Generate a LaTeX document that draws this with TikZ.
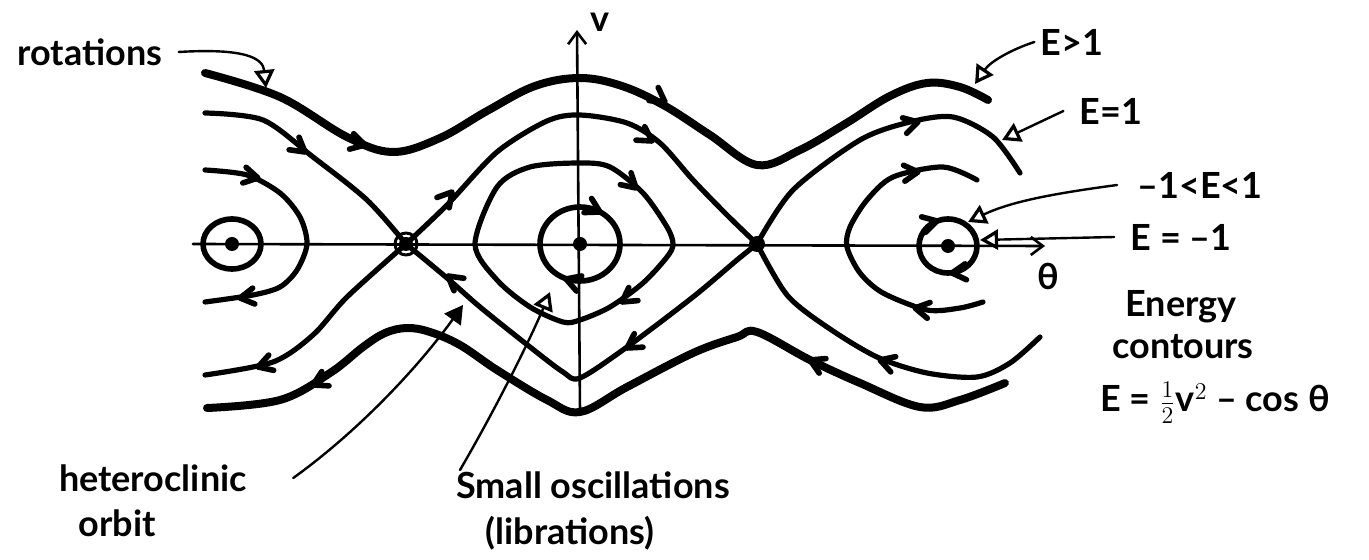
\documentclass[tikz,border=0pt]{standalone}
\usepackage{fontspec}
\setmainfont{Lato}
\usetikzlibrary{arrows.meta}
\newcommand\flowtip[3]{\draw[barbline] (#1,#2) ++(#3+150:16) -- (#1,#2) -- ++(#3-150:16);}
\begin{document}
\begin{tikzpicture}[x=0.5pt,y=-0.5pt,line cap=round,line join=round,
  rot/.style={line width=4pt},
  orbline/.style={line width=2.6pt},
  ring/.style={line width=2.8pt},
  axisline/.style={line width=1.3pt},
  barbline/.style={line width=2.8pt},
  pointer/.style={line width=1.2pt},
  lbl/.style={font=\fontsize{18}{21}\selectfont\bfseries,inner sep=0pt},
  opentri/.style={-{Triangle[open,length=9pt,width=10pt,line width=1.6pt]}},
  filltri/.style={-{Triangle[length=9pt,width=10pt]}}]
\fill[white] (0,0) rectangle (1369,560);
\useasboundingbox (0,0) rectangle (1369,560);

% axes
\draw[axisline,-{Straight Barb[length=6pt,width=9pt]}] (193,244) -- (1045,246);
\draw[axisline,-{Straight Barb[length=6pt,width=9pt]}] (580,413) -- (577,30);

% rotations
\draw[rot] plot[smooth,tension=0.6] coordinates {(205,73) (280,97) (347,137) (393,152) (440,138) (487,111) (535,86) (580,78) (622,86) (665,106) (710,135) (757,165) (800,150) (845,124) (890,96) (927,83) (960,87) (988,100)};
\draw[rot] plot[smooth,tension=0.6] coordinates {(207,408) (280,400) (330,373) (363,347) (385,333) (407,328) (430,332) (460,345) (497,370) (547,400) (580,412) (627,387) (693,353) (737,337) (757,332) (810,360) (860,383) (920,407) (960,400) (1005,383)};

% separatrices (E=1)
\draw[orbline] plot[smooth] coordinates {(205,113) (263,120) (313,157) (367,200) (406,244)};
\draw[orbline] plot[smooth] coordinates {(406,244) (447,205) (497,152) (547,121) (580,115) (627,123) (660,143) (693,180) (727,215) (757,244)};
\draw[orbline] plot[smooth] coordinates {(757,244) (793,190) (860,140) (910,122) (953,117) (993,137) (1020,173)};
\draw[orbline] plot[smooth] coordinates {(406,244) (347,297) (313,335) (273,362) (205,375)};
\draw[orbline] plot[smooth] coordinates {(406,244) (447,278) (480,307) (530,347) (563,372) (580,378) (627,347) (693,297) (737,260) (757,244)};
\draw[orbline] plot[smooth] coordinates {(757,244) (787,295) (827,327) (877,357) (927,373) (977,377) (1010,363) (1040,337)};

% librations (-1<E<1)
\draw[orbline] plot[smooth cycle] coordinates {(475,244) (497,187) (530,167) (580,163) (610,167) (643,193) (667,227) (673,244) (667,257) (643,283) (610,307) (580,320) (563,322) (530,307) (497,280)};
\draw[orbline] plot[smooth] coordinates {(205,170) (247,175) (280,193) (300,217) (307,244) (297,270) (280,287) (253,295) (205,302)};
\draw[orbline] plot[smooth] coordinates {(977,180) (943,167) (893,177) (867,200) (850,227) (847,247) (860,273) (883,293) (927,310) (960,308) (983,302)};

% small oscillations
\draw[ring] (232,244) ellipse [x radius=29, y radius=25];
\draw[ring] (580,244) ellipse [x radius=40, y radius=37];
\draw[ring] (948,246) ellipse [x radius=29, y radius=27];

% equilibria
\fill (232,244) circle [radius=7];
\fill (580,244) circle [radius=7];
\fill (948,246) circle [radius=7];
\fill (406,244) circle [radius=7];
\draw[line width=1.5pt] (406,244) circle [radius=11];
\fill (757,244) circle [radius=8];

% flow arrows
\flowtip{365}{145}{15}
\flowtip{665}{102}{35}
\flowtip{305}{152}{38}
\flowtip{452}{192}{-50}
\flowtip{652}{141}{33}
\flowtip{918}{122}{-15}
\flowtip{636}{188}{42}
\flowtip{622}{302}{145}
\flowtip{600}{212}{28}
\flowtip{566}{279}{199}
\flowtip{258}{178}{12}
\flowtip{240}{298}{172}
\flowtip{918}{172}{-5}
\flowtip{915}{308}{190}
\flowtip{258}{367}{162}
\flowtip{448}{276}{218}
\flowtip{627}{348}{147}
\flowtip{880}{360}{198}
\flowtip{313}{385}{153}
\flowtip{810}{360}{205}
\flowtip{937}{221}{-15}
\flowtip{952}{273}{175}

% labels
\node[lbl] (rotl) at (90,52) {rotations};
\node[lbl] (egt) at (1072,42) {E>1};
\node[lbl] (eeq) at (1111,111) {E=1};
\node[lbl] (emid) at (1200,185) {–1<E<1};
\node[lbl] (emin) at (1181,237) {E = –1};
\node[lbl] (thl) at (1048,276) {θ};
\node[lbl] (vl) at (600,22) {v};
\node[lbl] (en) at (1181,307) {Energy};
\node[lbl] (co) at (1183,347) {contours};
\node[lbl] (fo) at (1215,403) {E = $\frac{1}{2}$v$^2$ – cos θ};
\node[lbl] (het) at (153,478) {heteroclinic};
\node[lbl] (orbitl) at (117,523) {orbit};
\node[lbl] (sm) at (593,485) {Small oscillations};
\node[lbl] (lib) at (570,533) {(librations)};

% pointers
\coordinate (rotTip) at (266,88);
\coordinate (egtTip) at (975,84);
\coordinate (eeqTip) at (1002,140);
\coordinate (emidTip) at (968,222);
\coordinate (eminTip) at (980,240);
\coordinate (hetTip) at (463,305);
\coordinate (smStart) at (460,470);
\coordinate (smTip) at (550,292);
\draw[pointer,opentri] ([xshift=8pt]rotl.east) .. controls (245,48) and (263,58) .. (rotTip);
\draw[pointer,opentri] ([xshift=-3pt]egt.west) .. controls (1010,50) and (990,62) .. (egtTip);
\draw[pointer,opentri] ([xshift=-8pt]eeq.west) -- (eeqTip);
\draw[pointer,opentri] ([xshift=-10pt]emid.west) .. controls (1050,194) and (1010,202) .. (emidTip);
\draw[pointer,opentri] ([xshift=-8pt]emin.west) -- (eminTip);
\draw[pointer,filltri] ([xshift=23pt]het.east) .. controls (360,430) and (420,365) .. (hetTip);
\draw[pointer,opentri] (smStart) .. controls (495,410) and (530,340) .. (smTip);
\end{tikzpicture}
\end{document}
